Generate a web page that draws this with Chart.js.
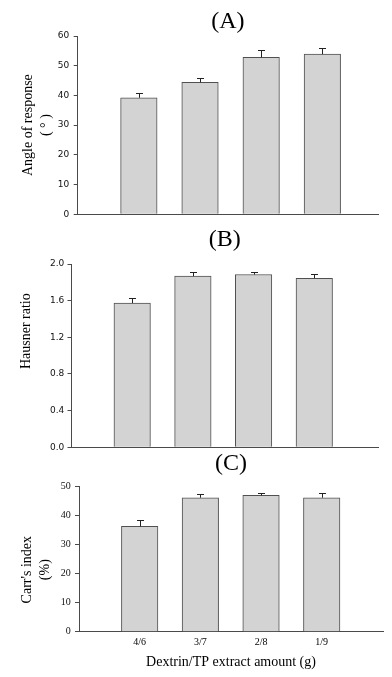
<!DOCTYPE html>
<html>
<head>
<meta charset="utf-8">
<script src="https://cdn.jsdelivr.net/npm/chart.js@4/dist/chart.umd.min.js"></script>
<style>
  html, body { margin: 0; padding: 0; background: #fff; width: 392px; height: 677px; overflow: hidden; }
  canvas { position: absolute; left: 0; }
</style>
</head>
<body>
<canvas id="cA" width="392" height="214" style="top:10px"></canvas>
<canvas id="cB" width="392" height="228" style="top:228px"></canvas>
<canvas id="cC" width="392" height="225" style="top:452px"></canvas>
<script>
// ---- data ----
const categories = ['4/6', '3/7', '2/8', '1/9'];
const angleValues = [39.2, 44.4, 52.8, 53.9];
const angleErrors = [1.7, 1.5, 2.4, 2.1];
const hausnerValues = [1.574, 1.867, 1.885, 1.845];
const hausnerErrors = [0.051, 0.051, 0.033, 0.051];
const carrValues = [36.3, 46.2, 47.0, 46.2];
const carrErrors = [2.1, 1.4, 0.8, 1.7];
const angleTicks = [0, 10, 20, 30, 40, 50, 60];
const hausnerTicks = [0.0, 0.4, 0.8, 1.2, 1.6, 2.0];
const carrTicks = [0, 10, 20, 30, 40, 50];

const SERIF = "'Liberation Serif', 'Times New Roman', serif";
const SANS = "'DejaVu Sans', Verdana, sans-serif";
const AXIS = '#4a4a4a';

const errorBars = {
  id: 'errorBars',
  afterDatasetsDraw(chart, args, opts) {
    const ctx = chart.ctx;
    const meta = chart.getDatasetMeta(0);
    const ys = chart.scales.y;
    const vals = chart.data.datasets[0].data;
    ctx.save();
    ctx.strokeStyle = '#222';
    ctx.lineWidth = 1;
    opts.errors.forEach((e, i) => {
      const el = meta.data[i];
      const x = Math.round(el.x) + 0.5;
      const y0 = ys.getPixelForValue(vals[i].y);
      const y1 = Math.round(ys.getPixelForValue(vals[i].y + e)) + 0.5;
      ctx.beginPath();
      ctx.moveTo(x, y0);
      ctx.lineTo(x, y1);
      ctx.moveTo(x - 3.5, y1);
      ctx.lineTo(x + 3.5, y1);
      ctx.stroke();
    });
    ctx.restore();
  }
};

function makePanel(id, cfg) {
  const data = cfg.values.map((v, i) => ({ x: i + 1, y: v }));
  return new Chart(document.getElementById(id), {
    type: 'bar',
    data: {
      datasets: [{
        data: data,
        backgroundColor: '#d3d3d3',
        borderColor: '#505050',
        borderWidth: 1,
        borderSkipped: 'bottom',
        barThickness: 36.5
      }]
    },
    plugins: [errorBars],
    options: {
      responsive: false,
      animation: false,
      events: [],
      layout: { padding: { left: 0, right: cfg.padRight, top: 0, bottom: cfg.padBottom } },
      plugins: {
        legend: { display: false },
        tooltip: { enabled: false },
        errorBars: { errors: cfg.errors },
        title: {
          display: true,
          text: cfg.title,
          fullSize: false,
          color: '#000',
          font: { family: SERIF, size: 24, weight: 'normal', lineHeight: 1 },
          padding: { top: 0, bottom: cfg.titlePadBottom }
        }
      },
      scales: {
        x: {
          type: 'linear',
          offset: false,
          min: 0,
          max: cfg.xMax,
          afterBuildTicks: s => { s.ticks = categories.map((c, i) => ({ value: i + 1 })); },
          afterFit: s => { if (cfg.xHeight) s.height = cfg.xHeight; },
          grid: { display: false, drawTicks: false },
          border: { display: true, color: AXIS, width: 1 },
          ticks: {
            display: cfg.showX,
            padding: 5,
            color: '#000',
            font: { family: SERIF, size: 10 },
            callback: v => categories[v - 1] || ''
          },
          title: {
            display: cfg.showX,
            text: 'Dextrin/TP extract amount (g)',
            color: '#000',
            font: { family: SERIF, size: 14, lineHeight: 1.2 },
            padding: { top: 0, bottom: 5.9 }
          }
        },
        y: {
          min: 0,
          max: cfg.yTicks[cfg.yTicks.length - 1],
          afterBuildTicks: s => { s.ticks = cfg.yTicks.map(v => ({ value: v })); },
          afterFit: s => { s.width = cfg.yWidth; },
          grid: { display: true, drawOnChartArea: false, drawTicks: true, tickLength: 4, color: AXIS },
          border: { display: true, color: AXIS, width: 1 },
          ticks: {
            padding: cfg.tickPad,
            color: '#111',
            font: cfg.tickFont,
            callback: cfg.tickFmt
          },
          title: {
            display: true,
            text: cfg.yTitle,
            color: '#000',
            font: { family: SERIF, size: 14, lineHeight: cfg.yTitleLH },
            padding: { top: cfg.yTitlePad, bottom: 0 }
          }
        }
      }
    }
  });
}

makePanel('cA', {
  title: '(A)', values: angleValues, errors: angleErrors, yTicks: angleTicks,
  padRight: 14, padBottom: 8, titlePadBottom: 2, xMax: 4.91, showX: false,
  yWidth: 77.7, tickPad: 4.4, tickFont: { family: SANS, size: 9 }, tickFmt: v => String(v),
  yTitle: ['Angle of response', '( \u00b0 )'], yTitleLH: 1.3, yTitlePad: 18.9
});
makePanel('cB', {
  title: '(B)', values: hausnerValues, errors: hausnerErrors, yTicks: hausnerTicks,
  padRight: 14, padBottom: 8.7, titlePadBottom: 12, xMax: 5.05, showX: false,
  yWidth: 71.5, tickPad: 3.2, tickFont: { family: SANS, size: 9 }, tickFmt: v => Number(v).toFixed(1),
  yTitle: '\u2003\u2003\u2003\u2002Hausner ratio', yTitleLH: 1.2, yTitlePad: 18.3
});
makePanel('cC', {
  title: '(C)', values: carrValues, errors: carrErrors, yTicks: carrTicks,
  padRight: 9, padBottom: 0, titlePadBottom: 10.7, xMax: 5.01, showX: true, xHeight: 45.3,
  yWidth: 79, tickPad: 4.3, tickFont: { family: SERIF, size: 10 }, tickFmt: v => String(v),
  yTitle: ["Carr's index\u2003\u2002", '(%)\u2003\u2002'], yTitleLH: 1.3, yTitlePad: 18.2
});
</script>
</body>
</html>
